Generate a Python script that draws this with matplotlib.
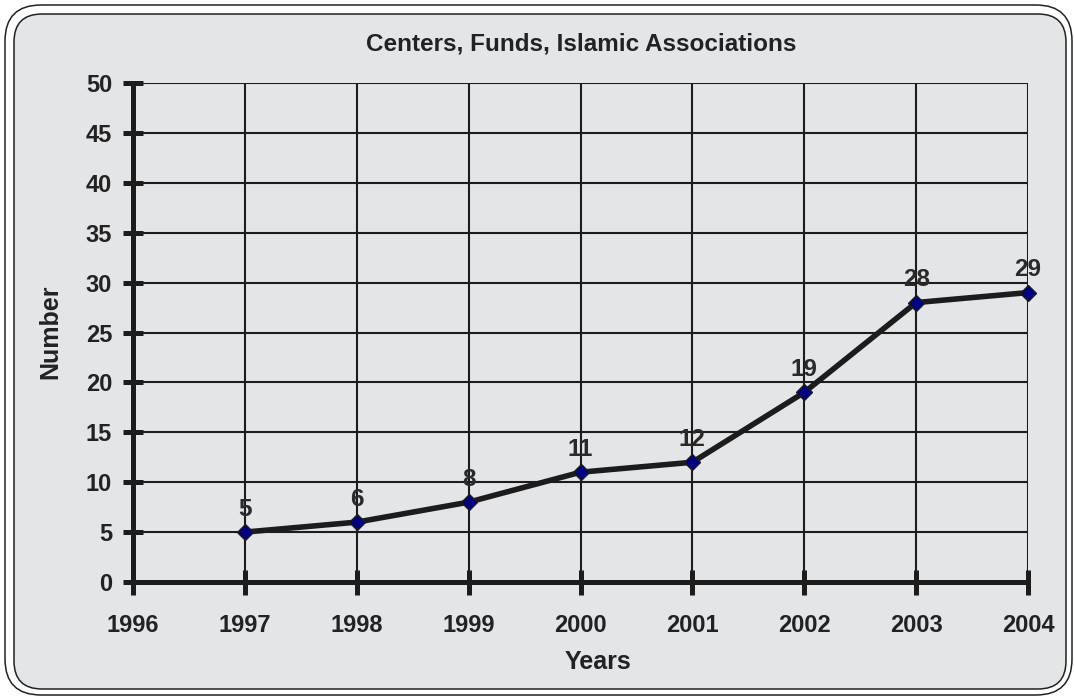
import matplotlib.pyplot as plt
from matplotlib.patches import FancyBboxPatch

plt.rcParams['font.family'] = ['Liberation Sans', 'DejaVu Sans']

# datos
years = [1997, 1998, 1999, 2000, 2001, 2002, 2003, 2004]
counts = [5, 6, 8, 11, 12, 19, 28, 29]
x_ticks = [1996, 1997, 1998, 1999, 2000, 2001, 2002, 2003, 2004]
y_ticks = [0, 5, 10, 15, 20, 25, 30, 35, 40, 45, 50]

bg = '#e4e5e7'
ink = '#1c1c1c'
W, H = 1074, 696
fig = plt.figure(figsize=(W / 100, H / 100), dpi=100)
fig.patch.set_facecolor('white')

# fondo con marco redondeado (doble linea), en coordenadas de pixel
bgax = fig.add_axes([0, 0, 1, 1], zorder=-1)
bgax.set_xlim(0, W)
bgax.set_ylim(H, 0)
bgax.axis('off')
bgax.add_patch(FancyBboxPatch((5, 5), 1067, 690,
                              boxstyle='round,pad=0,rounding_size=36',
                              facecolor='none', edgecolor='#222222',
                              linewidth=1.1))
bgax.add_patch(FancyBboxPatch((14, 14), 1052, 675,
                              boxstyle='round,pad=0,rounding_size=28',
                              facecolor=bg, edgecolor='#222222', linewidth=1.1))

ax = fig.add_axes([133 / W, 1 - 582 / H, (1028 - 133) / W, (582 - 83) / H])
ax.patch.set_alpha(0)

ax.set_xlim(1996, 2004)
ax.set_ylim(0, 50)
ax.set_xticks(x_ticks)
ax.set_yticks(y_ticks)
ax.grid(True, color=ink, linewidth=1.5)
ax.set_axisbelow(True)

for side in ['top', 'right']:
    ax.spines[side].set_visible(False)
for side in ['left', 'bottom']:
    ax.spines[side].set_linewidth(3.6)
    ax.spines[side].set_color(ink)
    ax.spines[side].set_capstyle('round')

ax.tick_params(axis='both', direction='inout', width=3.6, color=ink,
               labelsize=17, labelcolor='#222222')
ax.tick_params(axis='y', length=14, pad=8)
ax.tick_params(axis='x', length=18, pad=14)
for lab in ax.get_xticklabels() + ax.get_yticklabels():
    lab.set_fontweight('bold')

ax.plot(years, counts, color=ink, linewidth=4, marker='D',
        markersize=8.5, markerfacecolor='#000080', markeredgecolor=ink,
        markeredgewidth=1, clip_on=False, zorder=5)

for x, y in zip(years, counts):
    ax.annotate(str(y), (x, y), xytext=(0, 8), textcoords='offset points',
                ha='center', va='bottom', fontsize=17.5, fontweight='bold',
                color='#2a2a2a', zorder=6)

fig.text(581 / W, 1 - 44 / H, 'Centers, Funds, Islamic Associations',
         fontsize=17.5, fontweight='bold', color='#222222', ha='center', va='center')
fig.text(598 / W, 1 - 662 / H, 'Years', fontsize=18, fontweight='bold',
         color='#222222', ha='center', va='center')
fig.text(50 / W, 1 - 332 / H, 'Number', fontsize=18, fontweight='bold',
         color='#222222', ha='center', va='center', rotation=90)

fig.savefig('out.png', dpi=100, facecolor='white')
